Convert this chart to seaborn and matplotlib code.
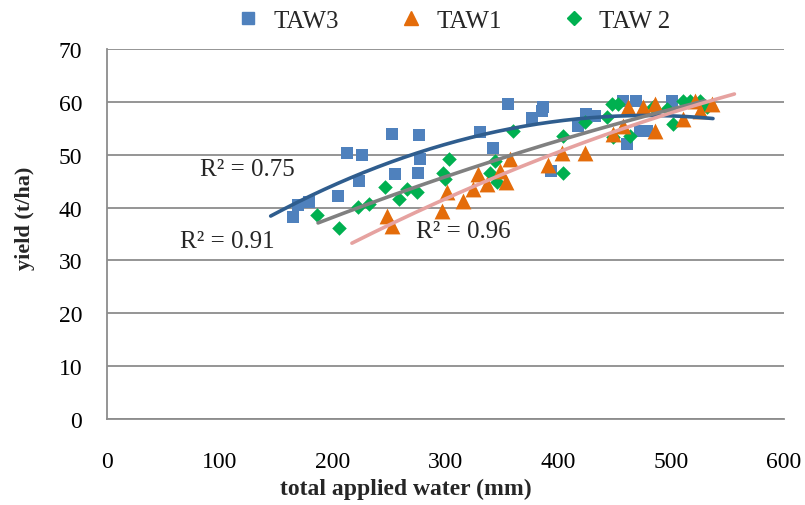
import numpy as np
import pandas as pd
import matplotlib
matplotlib.use("Agg")
import matplotlib.pyplot as plt
import seaborn as sns
from matplotlib.lines import Line2D

# ---- data ----
taw3_x = [164.9, 169.3, 179.0, 204.7, 212.7, 226.0, 223.3, 252.6, 255.3, 276.5, 277.4, 275.6,
          330.6, 342.1, 355.4, 376.7, 386.4, 385.5, 393.5, 424.5, 432.5, 417.4, 457.3, 468.8,
          460.9, 472.4, 478.6, 500.8, 531.8]
taw3_y = [38.2, 40.5, 41.1, 42.2, 50.3, 49.9, 45.0, 53.9, 46.3, 53.7, 49.2, 46.5,
          54.3, 51.3, 59.6, 56.9, 59.0, 58.3, 46.9, 57.7, 57.3, 55.4, 60.2, 60.2,
          52.0, 54.5, 54.5, 60.2, 59.2]

taw1_x = [248.2, 252.6, 296.9, 301.3, 315.5, 324.4, 328.8, 336.8, 348.3, 353.6, 357.2,
          390.9, 403.3, 423.6, 448.5, 461.8, 457.0, 475.0, 485.7, 485.7, 510.5, 521.1, 536.2, 525.6]
taw1_y = [38.4, 36.5, 39.3, 42.9, 41.2, 43.5, 46.3, 44.5, 46.9, 44.8, 49.2,
          48.1, 50.3, 50.3, 53.9, 59.0, 55.4, 59.0, 59.6, 54.5, 56.8, 60.2, 59.6, 58.3]

taw2_x = [186.1, 205.6, 222.5, 232.2, 246.4, 258.8, 265.9, 274.8, 297.8, 299.6, 303.1,
          339.4, 345.6, 343.9, 359.8, 404.2, 404.2, 423.6, 447.6, 452.9, 443.1, 448.5,
          463.5, 483.9, 496.3, 501.6, 510.5, 516.7, 525.6, 531.8]
taw2_y = [38.6, 36.1, 40.1, 40.7, 43.9, 41.6, 43.5, 42.9, 46.5, 45.4, 49.2,
          46.5, 44.8, 48.8, 54.5, 53.5, 46.5, 56.2, 59.6, 59.6, 57.1, 53.3,
          53.5, 59.0, 58.6, 55.8, 60.2, 60.2, 60.2, 59.0]

series_names = ["TAW3", "TAW1", "TAW 2"]
trend_ranges = {"TAW3": (145, 537), "TAW1": (217, 556), "TAW 2": (187, 530)}
r2_labels = {"TAW3": "R² = 0.75", "TAW 2": "R² = 0.91", "TAW1": "R² = 0.96"}
r2_pos = {"TAW3": (124, 47.3), "TAW 2": (107, 33.6), "TAW1": (316, 35.6)}

marker_colors = {"TAW3": "#4F81BD", "TAW1": "#E46C0A", "TAW 2": "#00B050"}
trend_colors = {"TAW3": "#2F5D8E", "TAW1": "#E6A2A0", "TAW 2": "#808080"}
markers = {"TAW3": "s", "TAW1": "^", "TAW 2": "D"}
sizes = {"TAW3": 85, "TAW1": 130, "TAW 2": 55}

data = {"TAW3": (taw3_x, taw3_y), "TAW1": (taw1_x, taw1_y), "TAW 2": (taw2_x, taw2_y)}

# ---- plot ----
sns.set_theme(style="white")
plt.rcParams["font.family"] = ["Liberation Serif", "DejaVu Serif"]

fig = plt.figure(figsize=(8.05, 5.06), dpi=100)
ax = fig.add_axes([0.133, 0.170, 0.841, 0.731])

for name in ["TAW3", "TAW 2", "TAW1"]:
    x, y = data[name]
    df = pd.DataFrame({"x": x, "y": y})
    sns.scatterplot(data=df, x="x", y="y", ax=ax, marker=markers[name],
                    color=marker_colors[name], s=sizes[name], linewidth=0, zorder=3)

for name in ["TAW3", "TAW 2", "TAW1"]:
    x, y = data[name]
    coef = np.polyfit(x, y, 2)
    lo, hi = trend_ranges[name]
    xs = np.linspace(lo, hi, 200)
    sns.lineplot(x=xs, y=np.polyval(coef, xs), ax=ax, color=trend_colors[name],
                 linewidth=2.6, zorder=4)
    tx, ty = r2_pos[name]
    ax.text(tx, ty, r2_labels[name], fontsize=18, ha="center", va="center", zorder=5)

ax.set_xlim(0, 600)
ax.set_ylim(0, 70)
ax.set_xticks(range(0, 601, 100))
ax.set_yticks(range(0, 71, 10))
ax.yaxis.grid(True, color="#8C8C8C", linewidth=1.3)
ax.xaxis.grid(False)
ax.set_axisbelow(True)
for s in ["top", "right"]:
    ax.spines[s].set_visible(False)
for s in ["left", "bottom"]:
    ax.spines[s].set_color("#8C8C8C")
    ax.spines[s].set_linewidth(1.3)
ax.tick_params(axis="both", which="both", direction="out", length=6, width=1.3,
               color="#8C8C8C", labelsize=17, labelcolor="black")
ax.tick_params(axis="x", pad=17)
ax.tick_params(axis="y", pad=12)

ax.set_xlabel("total applied water (mm)", fontsize=17, fontweight="bold")
ax.set_ylabel("yield (t/ha)", fontsize=16, fontweight="bold")
ax.xaxis.set_label_coords(0.442, -0.160)
ax.yaxis.set_label_coords(-0.106, 0.546)

handles = [Line2D([], [], linestyle="none", marker=markers[n], color=marker_colors[n],
                  markersize=ms) for n, ms in zip(series_names, [8, 10, 7])]
ax.legend(handles, series_names, loc="lower center", bbox_to_anchor=(0.511, 0.985),
          ncol=3, frameon=False, fontsize=18, handletextpad=0.5, columnspacing=2.4,
          handlelength=1.0)

fig.savefig("out.png", dpi=100)
